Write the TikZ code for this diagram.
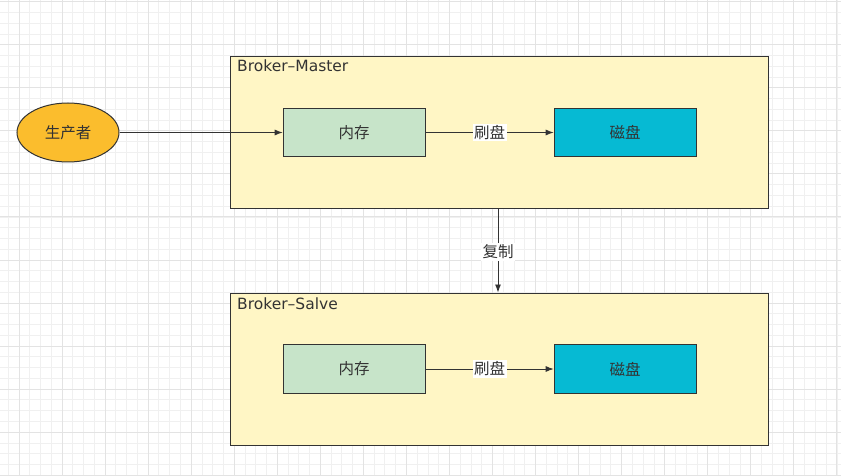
\documentclass[tikz,border=0pt]{standalone}
\usepackage{fontspec}
\setmainfont{Noto Sans CJK SC}
\newfontfamily\titlefont{DejaVu Sans}
\usetikzlibrary{arrows.meta,shapes.geometric}
\definecolor{txt}{HTML}{333333}
\definecolor{edge}{HTML}{333333}
\definecolor{gridminor}{HTML}{F0F0F0}
\definecolor{gridmajor}{HTML}{E3E3E3}
\definecolor{boxfill}{HTML}{FFF6C5}
\definecolor{memfill}{HTML}{C7E4C9}
\definecolor{diskfill}{HTML}{06BAD3}
\definecolor{prodfill}{HTML}{FBBD2D}
\tikzset{
  container/.style={draw=edge, line width=1.2pt, fill=boxfill, inner sep=0pt, anchor=north west},
  membox/.style={draw=edge, line width=1pt, fill=memfill, minimum width=142pt, minimum height=48.5pt, font=\fontsize{15.5}{18}\selectfont, text=txt},
  diskbox/.style={draw=edge, line width=1pt, fill=diskfill, minimum width=142pt, minimum height=48.5pt, font=\fontsize{15.5}{18}\selectfont, text=txt},
  prod/.style={draw=edge, line width=1pt, fill=prodfill, ellipse, minimum width=102pt, minimum height=59pt, font=\fontsize{15.5}{18}\selectfont, text=txt},
  boxtitle/.style={anchor=base west, font=\titlefont\fontsize{15.5}{18}\selectfont, text=txt, inner sep=0pt},
  elabel/.style={fill=white, inner sep=1.5pt, font=\fontsize{15.5}{18}\selectfont, text=txt},
  conn/.style={draw=edge, line width=0.9pt, -{Latex[length=8pt,width=6pt]}}
}
\begin{document}
\begin{tikzpicture}[x=1pt,y=-1pt]
\useasboundingbox (0,0) rectangle (841,476);
\fill[white] (0,0) rectangle (841,476);
\begin{scope}
\clip (0,0) rectangle (841,476);
\foreach \i in {0,...,82} {
  \draw[gridminor, line width=0.9pt] ({-24.05+\i*10.7625},0) -- ++(0,476);
}
\foreach \i in {0,...,48} {
  \draw[gridminor, line width=0.9pt] (0,{-41.35+\i*10.7625}) -- ++(841,0);
}
\foreach \i in {0,...,20} {
  \draw[gridmajor, line width=1pt] ({-24.05+\i*43.05},0) -- ++(0,476);
}
\foreach \i in {0,...,12} {
  \draw[gridmajor, line width=1pt] (0,{-41.35+\i*43.05}) -- ++(841,0);
}
\end{scope}

% containers
\node[container, minimum width=538pt, minimum height=152pt] (master) at (229.5,56) {};
\node[container, minimum width=538pt, minimum height=152.5pt] (slave) at (229.5,292.5) {};
\node[boxtitle] (mtitle) at (237,71.5) {Broker–Master};
\node[boxtitle] (stitle) at (237,309.5) {Broker–Salve};

% producer
\node[prod] (p) at (68,132.5) {生产者};

% master inner
\node[membox] (m1) at (354.2,132.5) {内存};
\node[diskbox] (d1) at (625.2,132.5) {磁盘};
% slave inner
\node[membox] (m2) at (354.2,369) {内存};
\node[diskbox] (d2) at (625.2,369) {磁盘};

% connectors
\draw[conn] (p.east) -- (m1.west);
\draw[conn] (m1.east) -- node[elabel, pos=0.5] (l1) {刷盘} (d1.west);
\draw[conn] (m2.east) -- node[elabel, pos=0.5] (l2) {刷盘} (d2.west);
\coordinate (mb) at (498,208);
\coordinate (st) at (498,292.5);
\draw[conn] (mb) -- node[elabel, pos=0.52] (l3) {复制} (st);
\end{tikzpicture}
\end{document}
